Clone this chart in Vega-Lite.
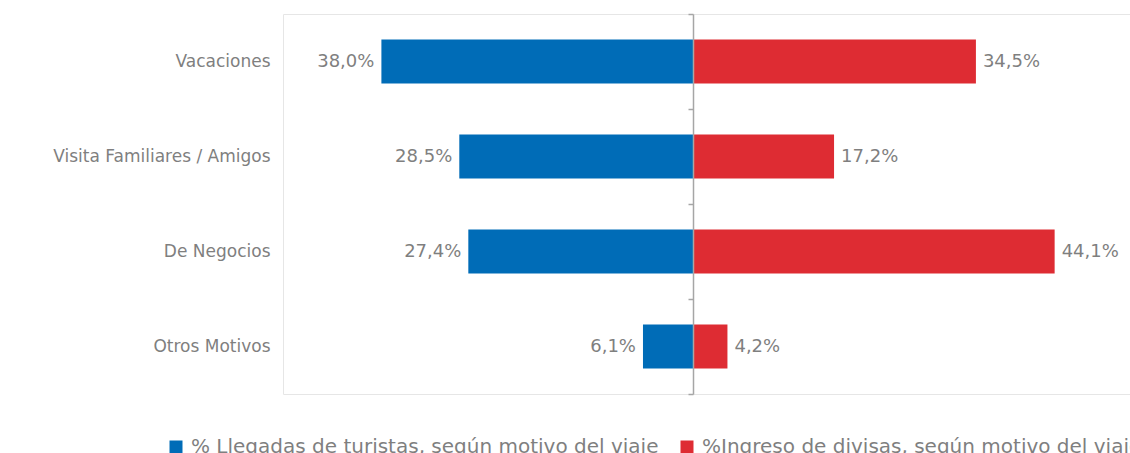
{
  "$schema": "https://vega.github.io/schema/vega-lite/v6.json",
  "autosize": {"type": "pad"},
  "padding": {"left": 52, "top": 12, "right": 0, "bottom": 0},
  "spacing": 0,
  "bounds": "flush",
  "config": {
    "locale": {"number": {"decimal": ",", "thousands": ".", "grouping": [3], "currency": ["", " €"]}},
    "view": {"stroke": "#e6e6e6", "strokeWidth": 1},
    "font": "DejaVu Sans",
    "legend": {
      "orient": "none",
      "legendX": -117,
      "legendY": 423,
      "direction": "horizontal",
      "symbolType": "square",
      "symbolSize": 169,
      "symbolStrokeWidth": 0,
      "labelFontSize": 20,
      "labelColor": "#7f7f7f",
      "labelFont": "DejaVu Sans",
      "labelOffset": 5,
      "columnPadding": 18,
      "padding": 0,
      "labelLimit": 700
    }
  },
  "data": {
    "values": [
      {"motivo": "Vacaciones", "serie": "% Llegadas de turistas, según motivo del viaje", "valor": 0.380},
      {"motivo": "Visita Familiares / Amigos", "serie": "% Llegadas de turistas, según motivo del viaje", "valor": 0.285},
      {"motivo": "De Negocios", "serie": "% Llegadas de turistas, según motivo del viaje", "valor": 0.274},
      {"motivo": "Otros Motivos", "serie": "% Llegadas de turistas, según motivo del viaje", "valor": 0.061},
      {"motivo": "Vacaciones", "serie": "%Ingreso de divisas, según motivo del viaje", "valor": 0.345},
      {"motivo": "Visita Familiares / Amigos", "serie": "%Ingreso de divisas, según motivo del viaje", "valor": 0.172},
      {"motivo": "De Negocios", "serie": "%Ingreso de divisas, según motivo del viaje", "valor": 0.441},
      {"motivo": "Otros Motivos", "serie": "%Ingreso de divisas, según motivo del viaje", "valor": 0.042}
    ]
  },
  "resolve": {"scale": {"color": "shared"}, "legend": {"color": "shared"}},
  "hconcat": [
    {
      "width": 410,
      "height": 380,
      "transform": [{"filter": "datum.serie == '% Llegadas de turistas, según motivo del viaje'"}],
      "encoding": {
        "y": {
          "field": "motivo", "type": "nominal",
          "sort": ["Vacaciones", "Visita Familiares / Amigos", "De Negocios", "Otros Motivos"],
          "scale": {"paddingInner": 0, "paddingOuter": 0},
          "axis": {
            "title": null, "ticks": false, "domain": false, "grid": false,
            "labelFontSize": 17, "labelColor": "#7f7f7f", "labelFont": "DejaVu Sans",
            "labelPadding": 13, "labelLimit": 300
          }
        }
      },
      "layer": [
        {
          "mark": {"type": "bar", "size": 44},
          "encoding": {
            "x": {"field": "valor", "type": "quantitative", "scale": {"domain": [0, 0.5], "reverse": true, "nice": false}, "axis": null},
            "color": {
              "field": "serie", "type": "nominal",
              "scale": {"domain": ["% Llegadas de turistas, según motivo del viaje", "%Ingreso de divisas, según motivo del viaje"], "range": ["#006cb7", "#de2c33"]},
              "legend": {"title": null}
            }
          }
        },
        {
          "mark": {"type": "text", "align": "right", "baseline": "middle", "dx": -7, "fontSize": 18, "color": "#7f7f7f", "font": "DejaVu Sans"},
          "encoding": {
            "x": {"field": "valor", "type": "quantitative", "scale": {"domain": [0, 0.5], "reverse": true, "nice": false}, "axis": null},
            "text": {"field": "valor", "type": "quantitative", "format": ".1%"}
          }
        }
      ]
    },
    {
      "width": 437,
      "height": 380,
      "transform": [{"filter": "datum.serie == '%Ingreso de divisas, según motivo del viaje'"}],
      "encoding": {
        "y": {
          "field": "motivo", "type": "nominal",
          "sort": ["Vacaciones", "Visita Familiares / Amigos", "De Negocios", "Otros Motivos"],
          "scale": {"paddingInner": 0, "paddingOuter": 0},
          "axis": {
            "title": null, "orient": "left", "labels": false, "grid": false,
            "domain": true, "domainColor": "#a6a6a6", "domainWidth": 1.5,
            "ticks": true, "tickColor": "#a6a6a6", "tickWidth": 1.5, "tickSize": 5,
            "tickBand": "extent", "zindex": 1
          }
        }
      },
      "layer": [
        {
          "mark": {"type": "bar", "size": 44},
          "encoding": {
            "x": {"field": "valor", "type": "quantitative", "scale": {"domain": [0, 0.5329], "nice": false}, "axis": null},
            "color": {
              "field": "serie", "type": "nominal",
              "scale": {"domain": ["% Llegadas de turistas, según motivo del viaje", "%Ingreso de divisas, según motivo del viaje"], "range": ["#006cb7", "#de2c33"]},
              "legend": {"title": null}
            }
          }
        },
        {
          "mark": {"type": "text", "align": "left", "baseline": "middle", "dx": 7, "fontSize": 18, "color": "#7f7f7f", "font": "DejaVu Sans"},
          "encoding": {
            "x": {"field": "valor", "type": "quantitative", "scale": {"domain": [0, 0.5329], "nice": false}, "axis": null},
            "text": {"field": "valor", "type": "quantitative", "format": ".1%"}
          }
        }
      ]
    }
  ]
}
